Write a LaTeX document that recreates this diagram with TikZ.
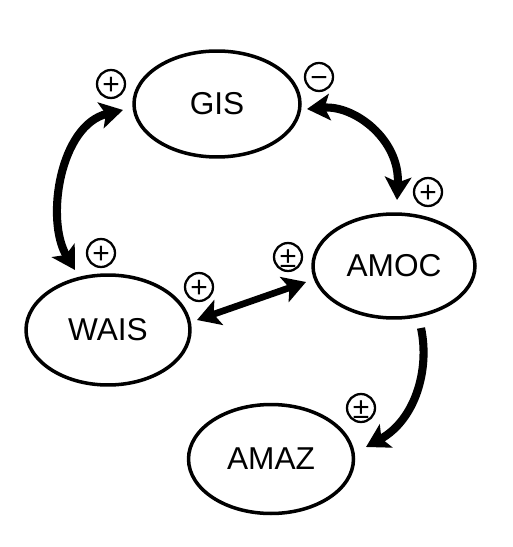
\documentclass[tikz,border=0pt]{standalone}
\usepackage{fontspec}
\setmainfont{Liberation Sans}
\usetikzlibrary{shapes.geometric,arrows.meta}
\tikzset{
  box/.style={ellipse,draw,line width=2pt,inner sep=0pt,font=\fontsize{18}{20}\selectfont},
  sign/.style={circle,draw,line width=1.3pt,minimum size=0.56cm,inner sep=0pt,text height=11.6pt,text depth=0pt,font=\fontsize{17}{18}\selectfont},
  tip/.tip={Stealth[length=13pt,width=15pt,inset=3pt]},
  fb/.style={line width=4.6pt,tip-tip},
  fbone/.style={line width=4.6pt,-tip}
}
\begin{document}
\begin{tikzpicture}[x=0.02cm,y=-0.02cm]
\useasboundingbox (0,0) rectangle (513,547);
\node[box,minimum width=3.32cm,minimum height=2.12cm] (gis) at (217,104) {GIS};
\node[box,minimum width=3.24cm,minimum height=2.08cm] (amoc) at (394,266) {AMOC};
\node[box,minimum width=3.28cm,minimum height=2.2cm] (wais) at (108,330) {WAIS};
\node[box,minimum width=3.3cm,minimum height=2.18cm] (amaz) at (271,459) {AMAZ};

\coordinate (gw) at (123,110);
\coordinate (wn) at (75,270);
\coordinate (ge) at (307,109);
\coordinate (an) at (397,200);
\coordinate (we) at (197,320);
\coordinate (aw) at (306,282);
\coordinate (as) at (421,328);
\coordinate (zn) at (366,447);

\draw[fb] (gw) .. controls (60,125) and (45,220) .. (wn);
\draw[fb] (ge) .. controls (355,105) and (400,140) .. (an);
\draw[fb,line width=3.8pt] (we) -- (aw);
\draw[fbone] (as) .. controls (430,370) and (415,420) .. (zn);

\node[sign] (s1) at (111,84) {+};
\node[sign] (s2) at (319,77) {−};
\node[sign] (s3) at (428,192) {+};
\node[sign] (s4) at (101,253) {+};
\node[sign] (s5) at (199,287) {+};
\node[sign] (s6) at (288,257) {±};
\node[sign] (s7) at (361,408) {±};
\end{tikzpicture}
\end{document}
